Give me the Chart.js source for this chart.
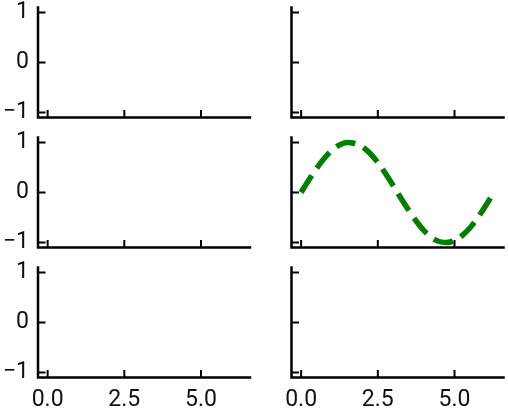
<!DOCTYPE html>
<html>
<head>
<meta charset="utf-8">
<script src="https://cdn.jsdelivr.net/npm/chart.js@4"></script>
<style>
body { margin: 0; background: #fff; }
#wrap { position: relative; width: 508px; height: 413px; }
canvas { position: absolute; }
</style>
</head>
<body>
<div id="wrap"></div>
<script>
// ---- data ----
const xTicks = [0, 2.5, 5];
const xTickLabels = ['0.0', '2.5', '5.0'];
const yTicks = [-1, 0, 1];
const yTickLabels = ['\u22121', '0', '1'];
const xLimits = [-0.314, 6.597];
const yLimits = [-1.1, 1.1];

// green dashed curve in the middle-right panel
const curveX = [0, 0.25, 0.5, 0.75, 1.0, 1.25, 1.5, 1.75, 2.0, 2.25, 2.5, 2.75, 3.0,
                3.25, 3.5, 3.75, 4.0, 4.25, 4.5, 4.75, 5.0, 5.25, 5.5, 5.75, 6.0, 6.25, 6.28];
const curveY = [0, 0.25, 0.48, 0.68, 0.84, 0.95, 1.0, 0.98, 0.91, 0.78, 0.6, 0.38, 0.14,
                -0.11, -0.35, -0.57, -0.76, -0.9, -0.98, -1.0, -0.96, -0.86, -0.71, -0.51, -0.28, -0.03, 0];
const curveCell = [1, 1]; // row, col

// ---- layout of the 3x2 grid ----
const colLeft = [0, 254], colWidth = 254;
const yAxisW = [38, 37.5], padRight = [4, 4.5];
const rowTop = [0, 130, 260], rowHeight = [130, 130, 153];
const padTop = 7.5, plotH = 110;

const spinesAndTicks = {
  id: 'spinesAndTicks',
  afterDraw(chart) {
    const { ctx, chartArea: a, scales: { x, y } } = chart;
    ctx.save();
    ctx.strokeStyle = '#000';
    ctx.lineWidth = 2;
    ctx.lineCap = 'butt';
    ctx.beginPath();
    xTicks.forEach(v => {
      const px = x.getPixelForValue(v);
      ctx.moveTo(px, a.bottom);
      ctx.lineTo(px, a.bottom - 7.5);
    });
    yTicks.forEach(v => {
      const py = y.getPixelForValue(v);
      ctx.moveTo(a.left, py);
      ctx.lineTo(a.left + 7.5, py);
    });
    ctx.stroke();
    ctx.lineWidth = 2.5;
    ctx.lineCap = 'square';
    ctx.beginPath();
    ctx.moveTo(a.left, a.top);
    ctx.lineTo(a.left, a.bottom);
    ctx.lineTo(a.right, a.bottom);
    ctx.stroke();
    ctx.restore();
  }
};

function makePanel(row, col) {
  const cv = document.createElement('canvas');
  cv.width = colWidth;
  cv.height = rowHeight[row];
  cv.style.left = colLeft[col] + 'px';
  cv.style.top = rowTop[row] + 'px';
  document.getElementById('wrap').appendChild(cv);

  const showX = row === 2;
  const showY = col === 0;
  const xAxisH = rowHeight[row] - padTop - plotH;

  const datasets = [];
  if (row === curveCell[0] && col === curveCell[1]) {
    datasets.push({
      data: curveX.map((v, i) => ({ x: v, y: curveY[i] })),
      borderColor: '#008000',
      borderWidth: 5.5,
      borderDash: [20, 9],
      borderCapStyle: 'butt',
      pointRadius: 0,
      cubicInterpolationMode: 'monotone',
      fill: false
    });
  }

  new Chart(cv, {
    type: 'line',
    data: { datasets: datasets },
    options: {
      responsive: false,
      animation: false,
      events: [],
      layout: { padding: { top: padTop, right: padRight[col], left: 0, bottom: 0 } },
      plugins: { legend: { display: false }, tooltip: { enabled: false } },
      scales: {
        x: {
          type: 'linear',
          min: xLimits[0], max: xLimits[1],
          grid: { display: false, drawTicks: false },
          border: { display: false },
          afterBuildTicks: s => { s.ticks = xTicks.map(v => ({ value: v })); },
          ticks: {
            display: showX,
            padding: 9,
            maxRotation: 0,
            autoSkip: false,
            color: '#111',
            font: { family: 'Roboto', size: 23 },
            callback: (v) => xTickLabels[xTicks.indexOf(v)]
          },
          afterFit: s => { s.height = xAxisH; s.paddingLeft = 0; s.paddingRight = 0; }
        },
        y: {
          min: yLimits[0], max: yLimits[1],
          grid: { display: false, drawTicks: false },
          border: { display: false },
          afterBuildTicks: s => { s.ticks = yTicks.map(v => ({ value: v })); },
          ticks: {
            display: showY,
            padding: 9,
            autoSkip: false,
            color: '#111',
            font: { family: 'Roboto', size: 23 },
            callback: (v) => yTickLabels[yTicks.indexOf(v)]
          },
          afterFit: s => { s.width = yAxisW[col]; s.paddingTop = 0; s.paddingBottom = 0; }
        }
      }
    },
    plugins: [spinesAndTicks]
  });
}

for (let r = 0; r < 3; r++) {
  for (let c = 0; c < 2; c++) {
    makePanel(r, c);
  }
}
</script>
</body>
</html>
